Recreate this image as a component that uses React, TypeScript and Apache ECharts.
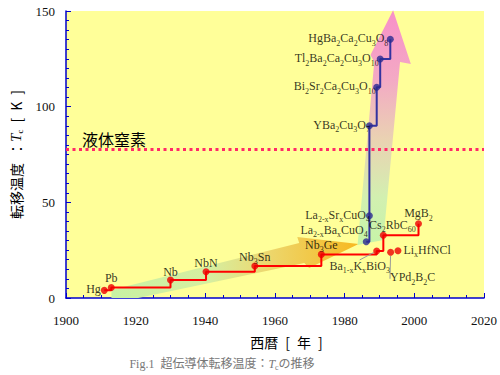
import React, { useEffect, useRef } from "react";
import * as echarts from "echarts";

// ---------------- data ----------------
const redNames = ["Hg", "Pb", "Nb", "NbN", "Nb3Sn", "Nb3Ge", "Ba1-xKxBiO3", "Cs2RbC60", "MgB2"];
const redYears = [1911, 1913, 1930, 1940.2, 1954.2, 1973.3, 1989.2, 1991.1, 2001.2];
const redTc = [4, 5.5, 9.4, 13.7, 16.7, 22.8, 24.6, 32.8, 38.8];

const otherNames = ["LixHfNCl", "YPd2B2C"];
const otherYears = [1995.3, 1993.2];
const otherTc = [24.7, 23.9];

const blueNames = ["La2-xBaxCuO4", "La2-xSrxCuO4", "YBa2Cu3O7", "Bi2Sr2Ca2Cu3O10", "Tl2Ba2Ca2Cu3O10", "HgBa2Ca2Cu3O8"];
const blueYears = [1986.2, 1987.1, 1987.1, 1989.2, 1990.2, 1993.1];
const blueTc = [29.4, 43.0, 90.0, 110.1, 124.9, 135.2];

const liquidNitrogenTc = 78;
const liquidNitrogenLabel = "液体窒素";

// decorative trend arrows, vertices in (year, K)
const lowArrowYears = [1913.05, 1913.05, 1966.95, 1966.4, 1984.0, 1969.8, 1968.4, 1920.7];
const lowArrowTc = [0, 4.2, 28.8, 31.9, 28.2, 15.7, 18.3, 0];
const highArrowYears = [1983.7, 1991.1, 1995.9, 1999.0, 1993.9, 1987.4, 1988.5];
const highArrowTc = [27.7, 30.3, 123.3, 122.3, 150.4, 127.0, 123.3];

const xMin = 1900;
const xMax = 2020;
const xInterval = 20;
const yMin = 0;
const yMax = 150;
const yInterval = 50;

const SP = "\u2002";
const xAxisName = `西暦${SP}[${SP}年${SP}]`;
const yAxisName = `転移温度${SP}：{t|T}{c|c}${SP}[${SP}K${SP}]`;
const caption = "Fig.1\u2002超伝導体転移温度：{t|T}{c|c}の推移";

// rich-text formulas for labels
const formulas: Record<string, string> = {
  Hg: "{m|Hg}",
  Pb: "{m|Pb}",
  Nb: "{m|Nb}",
  NbN: "{m|NbN}",
  Nb3Sn: "{m|Nb}{s|3}{m|Sn}",
  Nb3Ge: "{m|Nb}{s|3}{m|Ge}",
  "Ba1-xKxBiO3": "{m|Ba}{s|1-x}{m|K}{s|x}{m|BiO}{s|3}",
  Cs2RbC60: "{m|Cs}{s|2}{m|RbC}{s|60}",
  MgB2: "{m|MgB}{s|2}",
  LixHfNCl: "{m|Li}{s|x}{m|HfNCl}",
  YPd2B2C: "{m|YPd}{s|2}{m|B}{s|2}{m|C}",
  "La2-xBaxCuO4": "{m|La}{s|2-x}{m|Ba}{s|x}{m|CuO}{s|4}",
  "La2-xSrxCuO4": "{m|La}{s|2-x}{m|Sr}{s|x}{m|CuO}{s|4}",
  YBa2Cu3O7: "{m|YBa}{s|2}{m|Cu}{s|3}{m|O}{s|7}",
  Bi2Sr2Ca2Cu3O10: "{m|Bi}{s|2}{m|Sr}{s|2}{m|Ca}{s|2}{m|Cu}{s|3}{m|O}{s|10}",
  Tl2Ba2Ca2Cu3O10: "{m|Tl}{s|2}{m|Ba}{s|2}{m|Ca}{s|2}{m|Cu}{s|3}{m|O}{s|10}",
  HgBa2Ca2Cu3O8: "{m|HgBa}{s|2}{m|Ca}{s|2}{m|Cu}{s|3}{m|O}{s|8}",
};

// ---------------- styles / placement ----------------
const placement: Record<string, any> = {
  Hg: { position: "left", distance: 0 },
  Pb: { position: "top", distance: -2 },
  Nb: { position: "top", distance: -3 },
  NbN: { position: "top", distance: -3 },
  Nb3Sn: { position: "top", distance: -2 },
  Nb3Ge: { position: "top", distance: -2 },
  "Ba1-xKxBiO3": { position: "inside", move: [-17, 16], leader: true },
  Cs2RbC60: { position: "top", distance: -1, move: [9, 0] },
  MgB2: { position: "top", distance: -1 },
  LixHfNCl: { position: "right", distance: 2 },
  YPd2B2C: { position: "inside", move: [22, 26], leader: true },
  "La2-xBaxCuO4": { position: "left", distance: -5, move: [0, -11] },
  "La2-xSrxCuO4": { position: "left", distance: -4 },
  YBa2Cu3O7: { position: "left", distance: -4 },
  Bi2Sr2Ca2Cu3O10: { position: "left", distance: -2.5 },
  Tl2Ba2Ca2Cu3O10: { position: "left", distance: -2 },
  HgBa2Ca2Cu3O8: { position: "left", distance: -1.5 },
};

const SERIF = "'Liberation Serif', 'Times New Roman', serif";
const JP = "'Noto Sans CJK JP', sans-serif";
const AXIS_BLUE = "#0000cc";

const labelRich = {
  m: { fontFamily: SERIF, fontSize: 12, color: "#000", lineHeight: 14, padding: [0, 0, 1, 0], verticalAlign: "top" },
  s: { fontFamily: SERIF, fontSize: 8, color: "#000", lineHeight: 8, padding: [7, 0, 0, 0], verticalAlign: "top" },
};

function makePoints(names: string[], years: number[], tcs: number[]) {
  return names.map((n, i) => {
    const p = placement[n] || {};
    const label: any = { show: true, formatter: formulas[n], rich: labelRich, position: p.position };
    if (p.distance !== undefined) label.distance = p.distance;
    const item: any = { name: n, value: [years[i], tcs[i]], label };
    if (p.leader) item.labelLine = { show: true, lineStyle: { color: "#999", width: 1 } };
    return item;
  });
}

function layoutFor(names: string[]) {
  return (params: any) => {
    const p = placement[names[params.dataIndex]];
    if (p && p.move) return { dx: p.move[0], dy: p.move[1] };
    return {};
  };
}

const lowStops = [
  { offset: 0, color: "#c8f2a4" },
  { offset: 0.4, color: "#d6eea0" },
  { offset: 0.62, color: "#ecd870" },
  { offset: 1, color: "#f7b820" },
];
const highStops = [
  { offset: 0, color: "#f890c8" },
  { offset: 0.3, color: "#f3aac4" },
  { offset: 0.55, color: "#ead2b2" },
  { offset: 0.8, color: "#d2f0b0" },
  { offset: 1, color: "#c6f4a8" },
];

function arrowRenderer(xs: number[], ys: number[], horizontal: boolean) {
  return (_params: any, api: any) => {
    const points = xs.map((x, i) => api.coord([x, ys[i]]));
    return {
      type: "polygon",
      shape: { points },
      style: {
        fill: horizontal
          ? new echarts.graphic.LinearGradient(0, 0, 1, 0, lowStops)
          : new echarts.graphic.LinearGradient(0, 0, 0, 1, highStops),
      },
    };
  };
}

export default function App() {
  const ref = useRef<HTMLDivElement>(null);

  useEffect(() => {
    if (!ref.current) return;
    const chart = echarts.init(ref.current, undefined, { renderer: "svg" });

    const option: any = {
      animation: false,
      backgroundColor: "#ffffff",
      grid: {
        left: 64,
        right: 13,
        top: 11,
        bottom: 77,
        show: true,
        backgroundColor: "#ffff99",
        borderWidth: 0,
      },
      xAxis: {
        type: "value",
        min: xMin,
        max: xMax,
        interval: xInterval,
        name: xAxisName,
        nameLocation: "middle",
        nameGap: 37,
        nameTextStyle: { fontFamily: JP, fontSize: 14, color: "#000", padding: [0, 0, 0, 23] },
        axisLine: { show: true, lineStyle: { color: AXIS_BLUE, width: 1.5 } },
        axisTick: { show: true, inside: true, length: 5, lineStyle: { color: AXIS_BLUE, width: 1 } },
        minorTick: { show: true, splitNumber: 4, length: 3, lineStyle: { color: AXIS_BLUE, width: 1 } },
        axisLabel: {
          margin: 16,
          fontFamily: SERIF,
          fontSize: 13,
          color: "#111",
          formatter: (v: number) => String(v),
        },
        splitLine: { show: false },
        minorSplitLine: { show: false },
      },
      yAxis: {
        type: "value",
        min: yMin,
        max: yMax,
        interval: yInterval,
        name: yAxisName,
        nameLocation: "middle",
        nameGap: 42,
        nameRotate: 90,
        nameTextStyle: {
          fontFamily: JP,
          fontSize: 14,
          color: "#000",
          rich: {
            t: { fontFamily: SERIF, fontStyle: "italic", fontSize: 15, color: "#000" },
            c: { fontFamily: SERIF, fontSize: 9, color: "#000", padding: [8, 0, 0, 0] },
          },
        },
        axisLine: { show: true, lineStyle: { color: AXIS_BLUE, width: 1.5 } },
        axisTick: { show: true, inside: true, length: 5, lineStyle: { color: AXIS_BLUE, width: 1 } },
        minorTick: { show: true, splitNumber: 10, length: 3, lineStyle: { color: AXIS_BLUE, width: 1 } },
        axisLabel: {
          margin: 11,
          fontFamily: SERIF,
          fontSize: 13,
          color: "#111",
          formatter: (v: number) => String(v),
        },
        splitLine: { show: false },
        minorSplitLine: { show: false },
      },
      graphic: [
        {
          type: "text",
          x: 222,
          y: 364,
          z: 10,
          style: {
            text: caption,
            fontFamily: "'Liberation Serif', 'Noto Sans CJK JP', serif",
            fontSize: 12,
            fill: "#777",
            align: "center",
            verticalAlign: "middle",
            rich: {
              t: { fontFamily: SERIF, fontStyle: "italic", fontSize: 12, fill: "#777" },
              c: { fontFamily: SERIF, fontSize: 8, fill: "#777", padding: [7, 0, 0, 0] },
            },
          },
        },
      ],
      series: [
        {
          type: "custom",
          name: "lowArrow",
          z: 1,
          clip: false,
          silent: true,
          data: [[xMin, yMin]],
          renderItem: arrowRenderer(lowArrowYears, lowArrowTc, true),
        },
        {
          type: "custom",
          name: "highArrow",
          z: 1,
          clip: false,
          silent: true,
          data: [[xMin, yMin]],
          renderItem: arrowRenderer(highArrowYears, highArrowTc, false),
        },
        {
          type: "line",
          name: "conventionalLine",
          z: 3,
          step: "end",
          showSymbol: false,
          lineStyle: { color: "#ff0000", width: 2 },
          data: redYears.map((y, i) => [y, redTc[i]]),
        },
        {
          type: "line",
          name: "cuprateLine",
          z: 3,
          step: "end",
          showSymbol: false,
          lineStyle: { color: "#3333a0", width: 2 },
          data: blueYears.map((y, i) => [y, blueTc[i]]),
          markLine: {
            silent: true,
            symbol: "none",
            z: 2,
            lineStyle: { color: "#ff2a68", width: 3, type: [3, 3.5], cap: "butt" },
            label: {
              show: true,
              position: "insideStartTop",
              distance: [16, 2],
              formatter: liquidNitrogenLabel,
              fontFamily: JP,
              fontSize: 16,
              color: "#000",
            },
            data: [{ yAxis: liquidNitrogenTc }],
          },
        },
        {
          type: "scatter",
          name: "conventional",
          z: 4,
          symbol: "circle",
          symbolSize: 7,
          itemStyle: { color: "#ee0000" },
          labelLayout: layoutFor(redNames),
          data: makePoints(redNames, redYears, redTc),
        },
        {
          type: "scatter",
          name: "other",
          z: 4,
          symbol: "circle",
          symbolSize: 7,
          itemStyle: { color: "#ee0000" },
          labelLayout: layoutFor(otherNames),
          data: makePoints(otherNames, otherYears, otherTc),
        },
        {
          type: "scatter",
          name: "cuprate",
          z: 4,
          symbol: "circle",
          symbolSize: 7,
          itemStyle: { color: "#2b2b90" },
          labelLayout: layoutFor(blueNames),
          data: makePoints(blueNames, blueYears, blueTc),
        },
      ],
    };

    chart.setOption(option);
    return () => chart.dispose();
  }, []);

  return (
    <div
      ref={ref}
      style={{ position: "fixed", left: 0, top: 0, width: 500, height: 375, background: "#fff" }}
    />
  );
}
